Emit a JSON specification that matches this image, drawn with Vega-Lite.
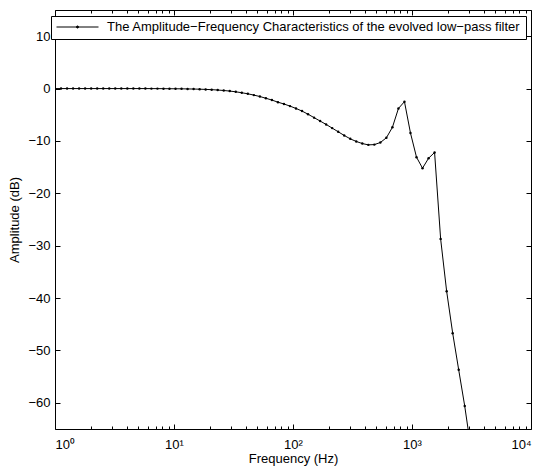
{
  "$schema": "https://vega.github.io/schema/vega-lite/v6.json",
  "width": 476,
  "height": 419,
  "autosize": {"type": "none"},
  "padding": {"left": 55, "top": 10, "right": 14, "bottom": 41},
  "background": "white",
  "config": {
    "view": {"stroke": null},
    "font": "Liberation Sans",
    "axis": {
      "grid": false,
      "domainColor": "black",
      "tickColor": "black",
      "labelColor": "black",
      "titleColor": "black",
      "labelFont": "Liberation Sans",
      "titleFont": "Liberation Sans",
      "labelFontSize": 13,
      "titleFontSize": 13,
      "titleFontWeight": "normal",
      "domainWidth": 1,
      "tickWidth": 1
    }
  },
  "data": {
    "values": [
      {"f": 1, "a": 0}, {"f": 1.124, "a": 0}, {"f": 1.263, "a": 0}, {"f": 1.419, "a": 0},
      {"f": 1.594, "a": 0}, {"f": 1.791, "a": 0}, {"f": 2.013, "a": 0}, {"f": 2.262, "a": 0},
      {"f": 2.542, "a": 0}, {"f": 2.856, "a": 0}, {"f": 3.208, "a": 0}, {"f": 3.606, "a": 0},
      {"f": 4.052, "a": 0}, {"f": 4.553, "a": 0}, {"f": 5.116, "a": 0}, {"f": 5.748, "a": 0},
      {"f": 6.459, "a": -0.01}, {"f": 7.258, "a": -0.01}, {"f": 8.155, "a": -0.02}, {"f": 9.163, "a": -0.03},
      {"f": 10.30, "a": -0.04}, {"f": 11.57, "a": -0.05}, {"f": 13.00, "a": -0.07}, {"f": 14.61, "a": -0.09},
      {"f": 16.42, "a": -0.12}, {"f": 18.45, "a": -0.16}, {"f": 20.73, "a": -0.21}, {"f": 23.29, "a": -0.28},
      {"f": 26.17, "a": -0.37}, {"f": 29.41, "a": -0.48}, {"f": 33.04, "a": -0.62}, {"f": 37.13, "a": -0.8},
      {"f": 41.72, "a": -1.0}, {"f": 46.88, "a": -1.25}, {"f": 52.67, "a": -1.52}, {"f": 59.19, "a": -1.85},
      {"f": 66.50, "a": -2.2}, {"f": 74.72, "a": -2.6}, {"f": 83.96, "a": -2.95}, {"f": 94.34, "a": -3.35},
      {"f": 106.0, "a": -3.8}, {"f": 119.1, "a": -4.3}, {"f": 133.8, "a": -4.9}, {"f": 150.4, "a": -5.55},
      {"f": 169.0, "a": -6.2}, {"f": 189.9, "a": -6.85}, {"f": 213.4, "a": -7.55}, {"f": 239.7, "a": -8.25},
      {"f": 269.4, "a": -8.95}, {"f": 302.7, "a": -9.6}, {"f": 340.1, "a": -10.1}, {"f": 382.2, "a": -10.5},
      {"f": 429.5, "a": -10.75}, {"f": 482.6, "a": -10.7}, {"f": 542.2, "a": -10.3}, {"f": 609.2, "a": -9.4},
      {"f": 684.6, "a": -7.4}, {"f": 769.2, "a": -3.8}, {"f": 864.3, "a": -2.5}, {"f": 971.2, "a": -8.5},
      {"f": 1091, "a": -13.1}, {"f": 1226, "a": -15.2}, {"f": 1378, "a": -13.3}, {"f": 1548, "a": -12.2},
      {"f": 1740, "a": -28.7}, {"f": 1955, "a": -38.7}, {"f": 2197, "a": -46.7}, {"f": 2468, "a": -53.7},
      {"f": 2773, "a": -60.6}, {"f": 3116, "a": -68.5}
    ]
  },
  "layer": [
    {
      "mark": {"type": "line", "strokeWidth": 1, "clip": true},
      "encoding": {
        "x": {
          "field": "f", "type": "quantitative",
          "scale": {"type": "log", "domain": [1, 10000], "nice": false},
          "axis": {
            "orient": "bottom", "values": [1, 10, 100, 1000, 10000], "tickSize": -5,
            "labelPadding": 14, "titlePadding": 1,
            "labelExpr": "datum.value == 1 ? '10⁰' : datum.value == 10 ? '10¹' : datum.value == 100 ? '10²' : datum.value == 1000 ? '10³' : '10⁴'",
            "title": "Frequency (Hz)"
          }
        },
        "y": {
          "field": "a", "type": "quantitative",
          "scale": {"domain": [-65, 15], "nice": false, "zero": false},
          "axis": {
            "orient": "left", "values": [-60, -50, -40, -30, -20, -10, 0, 10], "tickSize": -5,
            "labelPadding": 10, "titlePadding": 6, "title": "Amplitude (dB)"
          }
        },
        "color": {
          "datum": "The Amplitude−Frequency Characteristics of the evolved low−pass filter",
          "scale": {"range": ["black"]},
          "legend": {
            "orient": "none", "legendX": -4, "legendY": 6, "title": null,
            "strokeColor": "black", "fillColor": "white", "padding": 5, "cornerRadius": 0,
            "labelFontSize": 13, "labelFont": "Liberation Sans", "labelColor": "black", "labelLimit": 600,
            "symbolType": "M-1,0H1M-0.05,0A0.05,0.05,0,1,1,0.05,0A0.05,0.05,0,1,1,-0.05,0Z",
            "symbolSize": 1764, "symbolStrokeWidth": 1, "symbolStrokeColor": "black", "symbolFillColor": "black",
            "clipHeight": 12, "labelOffset": 8
          }
        }
      }
    },
    {
      "mark": {"type": "point", "filled": true, "size": 6, "color": "black", "opacity": 1, "clip": true},
      "encoding": {
        "x": {
          "field": "f", "type": "quantitative",
          "axis": {"orient": "top", "values": [1, 10, 100, 1000, 10000], "tickSize": -5, "labels": false, "title": null}
        },
        "y": {
          "field": "a", "type": "quantitative",
          "axis": {"orient": "right", "values": [-60, -50, -40, -30, -20, -10, 0, 10], "tickSize": -5, "labels": false, "title": null}
        }
      }
    },
    {
      "mark": {"type": "line", "strokeOpacity": 0, "clip": true},
      "encoding": {
        "x": {
          "field": "f", "type": "quantitative",
          "axis": {"orient": "bottom", "values": [2,3,4,5,6,7,8,9,20,30,40,50,60,70,80,90,200,300,400,500,600,700,800,900,2000,3000,4000,5000,6000,7000,8000,9000], "tickSize": -3, "labels": false, "domain": false, "title": null}
        },
        "y": {"field": "a", "type": "quantitative", "axis": null}
      }
    },
    {
      "mark": {"type": "line", "strokeOpacity": 0, "clip": true},
      "encoding": {
        "x": {
          "field": "f", "type": "quantitative",
          "axis": {"orient": "top", "values": [2,3,4,5,6,7,8,9,20,30,40,50,60,70,80,90,200,300,400,500,600,700,800,900,2000,3000,4000,5000,6000,7000,8000,9000], "tickSize": -3, "labels": false, "domain": false, "title": null}
        },
        "y": {"field": "a", "type": "quantitative", "axis": null}
      }
    }
  ]
}
